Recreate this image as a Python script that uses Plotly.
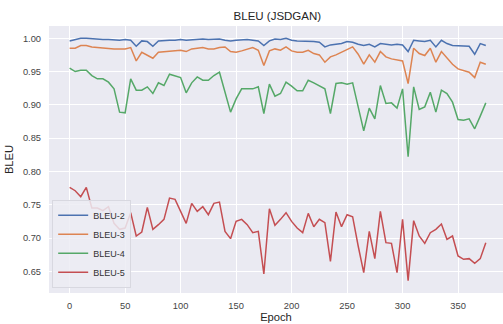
import plotly.graph_objects as go

# Epochs sampled every 5 steps
epochs = list(range(0, 380, 5))

bleu2 = [0.996, 0.998, 1.000, 1.000, 0.999, 0.999, 0.998, 0.998, 0.997, 0.997,
         0.998, 0.997, 0.988, 0.996, 0.995, 0.988, 0.996, 0.997, 0.997, 0.997,
         0.998, 0.997, 0.998, 0.998, 0.999, 0.998, 0.998, 0.999, 0.997, 0.996,
         0.997, 0.998, 0.998, 0.997, 0.996, 0.989, 0.996, 0.999, 0.998, 1.000,
         0.997, 0.996, 0.996, 0.996, 0.995, 0.994, 0.987, 0.990, 0.991, 0.992,
         0.995, 0.994, 0.991, 0.989, 0.991, 0.987, 0.992, 0.991, 0.990, 0.991,
         0.990, 0.980, 0.997, 0.996, 0.995, 0.997, 0.987, 0.997, 0.992, 0.989,
         0.989, 0.989, 0.988, 0.976, 0.992, 0.989]

bleu3 = [0.985, 0.985, 0.989, 0.989, 0.987, 0.986, 0.986, 0.985, 0.984, 0.984,
         0.984, 0.986, 0.966, 0.979, 0.975, 0.970, 0.979, 0.980, 0.981, 0.982,
         0.982, 0.980, 0.984, 0.985, 0.986, 0.984, 0.984, 0.986, 0.987, 0.980,
         0.979, 0.981, 0.984, 0.986, 0.982, 0.959, 0.981, 0.984, 0.982, 0.987,
         0.981, 0.979, 0.979, 0.982, 0.977, 0.975, 0.964, 0.972, 0.975, 0.979,
         0.982, 0.987, 0.976, 0.961, 0.975, 0.964, 0.980, 0.972, 0.969, 0.967,
         0.966, 0.932, 0.985, 0.977, 0.974, 0.985, 0.964, 0.980, 0.971, 0.961,
         0.954, 0.951, 0.949, 0.941, 0.964, 0.961]

bleu4 = [0.955, 0.950, 0.952, 0.952, 0.944, 0.939, 0.939, 0.934, 0.924, 0.889,
         0.888, 0.939, 0.922, 0.922, 0.927, 0.917, 0.933, 0.929, 0.946, 0.944,
         0.941, 0.918, 0.933, 0.942, 0.937, 0.937, 0.944, 0.949, 0.917, 0.889,
         0.909, 0.924, 0.924, 0.924, 0.927, 0.887, 0.931, 0.913, 0.917, 0.934,
         0.928, 0.921, 0.921, 0.937, 0.933, 0.929, 0.924, 0.887, 0.932, 0.933,
         0.931, 0.933, 0.897, 0.861, 0.895, 0.879, 0.929, 0.902, 0.903, 0.895,
         0.924, 0.822, 0.927, 0.893, 0.897, 0.919, 0.889, 0.922, 0.917, 0.904,
         0.878, 0.877, 0.879, 0.864, 0.883, 0.903]

bleu5 = [0.776, 0.771, 0.762, 0.776, 0.745, 0.745, 0.741, 0.747, 0.722, 0.713,
         0.715, 0.738, 0.703, 0.709, 0.746, 0.713, 0.720, 0.728, 0.760, 0.758,
         0.740, 0.722, 0.752, 0.740, 0.747, 0.735, 0.752, 0.754, 0.710, 0.699,
         0.725, 0.728, 0.720, 0.708, 0.710, 0.646, 0.744, 0.719, 0.728, 0.738,
         0.725, 0.715, 0.708, 0.737, 0.717, 0.728, 0.723, 0.665, 0.739, 0.717,
         0.735, 0.732, 0.688, 0.648, 0.710, 0.669, 0.740, 0.693, 0.692, 0.648,
         0.728, 0.636, 0.726, 0.703, 0.692, 0.708, 0.713, 0.721, 0.698, 0.703,
         0.673, 0.668, 0.669, 0.662, 0.669, 0.693]

series = [
    ("BLEU-2", bleu2, "#4c72b0"),
    ("BLEU-3", bleu3, "#dd8452"),
    ("BLEU-4", bleu4, "#55a868"),
    ("BLEU-5", bleu5, "#c44e52"),
]

FONT = "Liberation Sans, Arial, sans-serif"

fig = go.Figure()
for name, vals, color in series:
    fig.add_trace(go.Scatter(
        x=epochs, y=vals, name=name, mode="lines",
        line=dict(color=color, width=1.5),
    ))

fig.update_layout(
    width=503, height=324,
    margin=dict(l=49, r=0, t=26, b=31),
    paper_bgcolor="white",
    plot_bgcolor="#eaeaf2",
    font=dict(family=FONT, color="#333333"),
    title=dict(text="BLEU (JSDGAN)", x=0.503, xref="paper", xanchor="center",
               y=1 - 16 / 324, yref="container", yanchor="middle",
               font=dict(size=11.5, color="#262626")),
    showlegend=True,
    legend=dict(
        x=0.007, y=0.02, xanchor="left", yanchor="bottom",
        bgcolor="rgba(236,236,243,0.85)", bordercolor="#d8d8e0", borderwidth=1,
        font=dict(size=9, color="#333333"),
        tracegroupgap=0, itemwidth=30,
    ),
)

fig.update_xaxes(
    range=[-18.6, 390.5],
    tickvals=[0, 50, 100, 150, 200, 250, 300, 350],
    showgrid=True, gridcolor="white", gridwidth=1,
    zeroline=False, showline=False, ticks="",
    ticklabelstandoff=6,
    tickfont=dict(size=9.3, color="#444444"),
    title=dict(text="Epoch", font=dict(size=11.2, color="#262626"), standoff=2),
)
fig.update_yaxes(
    range=[0.6174, 1.0184],
    tickvals=[0.65, 0.70, 0.75, 0.80, 0.85, 0.90, 0.95, 1.00],
    tickformat=".2f",
    showgrid=True, gridcolor="white", gridwidth=1,
    zeroline=False, showline=False, ticks="",
    ticklabelstandoff=7,
    tickfont=dict(size=9.3, color="#444444"),
    title=dict(text="BLEU", font=dict(size=11.2, color="#262626"), standoff=6),
)

fig.write_html("out.html")
